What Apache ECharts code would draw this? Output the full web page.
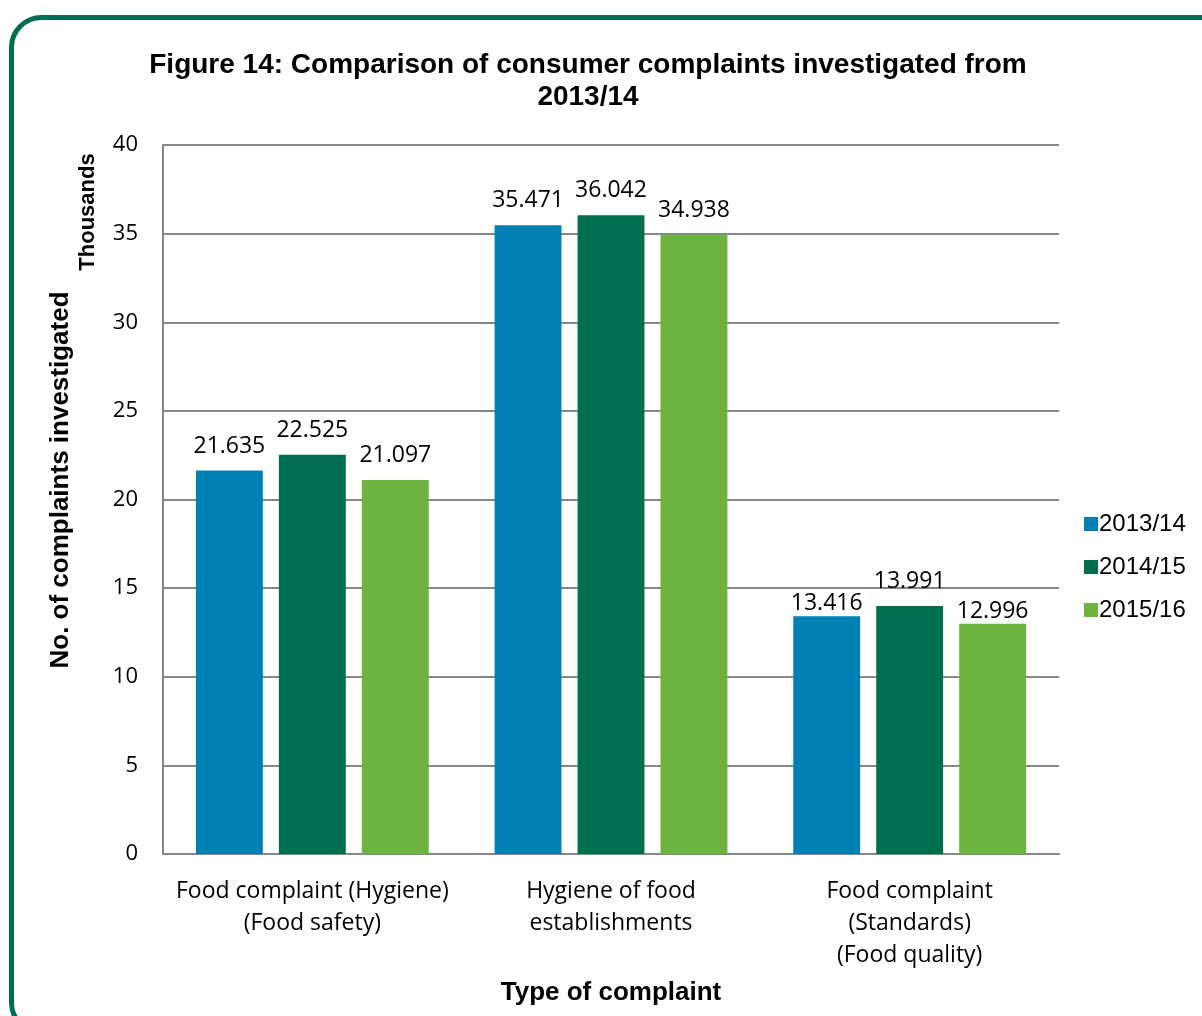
<!DOCTYPE html>
<html>
<head>
<meta charset="utf-8">
<script src="https://cdn.jsdelivr.net/npm/echarts@6/dist/echarts.min.js"></script>
<style>
html,body{margin:0;padding:0;background:#fff;}
#chart{width:1202px;height:1016px;}
</style>
</head>
<body>
<div id="chart"></div>
<script>
const categories = ["Food complaint (Hygiene)\n(Food safety)", "Hygiene of food\nestablishments", "Food complaint\n(Standards)\n(Food quality)"];
const seriesNames = ["2013/14", "2014/15", "2015/16"];
const values2013 = [21.635, 35.471, 13.416];
const values2014 = [22.525, 36.042, 13.991];
const values2015 = [21.097, 34.938, 12.996];
const yTicks = [0, 5, 10, 15, 20, 25, 30, 35, 40];
const colors = ["#0080B3", "#006E4F", "#6DB33F"];

const chart = echarts.init(document.getElementById('chart'));
const labelFont = "'Open Sans', 'Liberation Sans', sans-serif";
const arial = "'Liberation Sans', Arial, sans-serif";
// label placement tweaks (style, not data): third-group labels of series 0 and 2 sit closer to bar
const closeLabel = {0: [2], 2: [2]};
function mkSeries(idx, data) {
  return {
    name: seriesNames[idx], type: 'bar',
    data: data.map((v, i) => (closeLabel[idx] && closeLabel[idx].includes(i))
      ? {value: v, label: {distance: 1}} : v),
    barWidth: '22.4%', barGap: '24%',
    itemStyle: {color: colors[idx]},
    label: {show: true, position: 'top', distance: 13, color: '#000', fontSize: 23, fontFamily: labelFont,
      formatter: p => p.value.toFixed(3)}
  };
}
chart.setOption({
  animation: false,
  backgroundColor: '#fff',
  title: {
    text: 'Figure 14: Comparison of consumer complaints investigated from\n2013/14',
    left: 583, textAlign: 'center', top: 44,
    textStyle: {fontFamily: arial, fontWeight: 'bold', fontSize: 28, lineHeight: 32, color: '#000'}
  },
  legend: {
    orient: 'vertical', left: 1079, top: 507, itemGap: 19,
    itemWidth: 14, itemHeight: 14, icon: 'rect',
    textStyle: {fontFamily: arial, fontSize: 24, color: '#000', padding: [0,0,0,-4]},
    data: seriesNames
  },
  grid: {left: 163, right: 143, top: 145, bottom: 162},
  xAxis: {
    type: 'category', data: categories,
    name: 'Type of complaint', nameLocation: 'middle', nameGap: 126,
    nameTextStyle: {fontFamily: arial, fontWeight: 'bold', fontSize: 26, color: '#000'},
    axisLine: {lineStyle: {color: '#868686', width: 2}},
    axisTick: {show: false},
    axisLabel: {color: '#000', fontSize: 23, fontFamily: labelFont, lineHeight: 32, margin: 21, interval: 0}
  },
  yAxis: {
    type: 'value', min: 0, max: 40, interval: 5,
    axisLine: {show: true, lineStyle: {color: '#868686', width: 2}},
    axisTick: {show: false},
    splitLine: {lineStyle: {color: '#868686', width: 2}},
    axisLabel: {color: '#000', fontSize: 22, fontFamily: labelFont, margin: 25,
      formatter: v => yTicks.includes(v) ? String(v) : ''}
  },
  graphic: [
    {type: 'rect', shape: {x: 11.5, y: 17.5, width: 1300, height: 1015, r: 30}, style: {fill: 'none', stroke: '#006F4F', lineWidth: 5}, silent: true, z: 100},
    {type: 'text', x: 88, y: 212, rotation: Math.PI/2, style: {text: 'Thousands', fontFamily: arial, fontWeight: 'bold', fontSize: 22, fill: '#000', textAlign: 'center', textVerticalAlign: 'middle'}},
    {type: 'text', x: 61, y: 480, rotation: Math.PI/2, style: {text: 'No. of complaints investigated', fontFamily: arial, fontWeight: 'bold', fontSize: 26, fill: '#000', textAlign: 'center', textVerticalAlign: 'middle'}}
  ],
  series: [
    mkSeries(0, values2013),
    mkSeries(1, values2014),
    mkSeries(2, values2015)
  ]
});
</script>
</body>
</html>
